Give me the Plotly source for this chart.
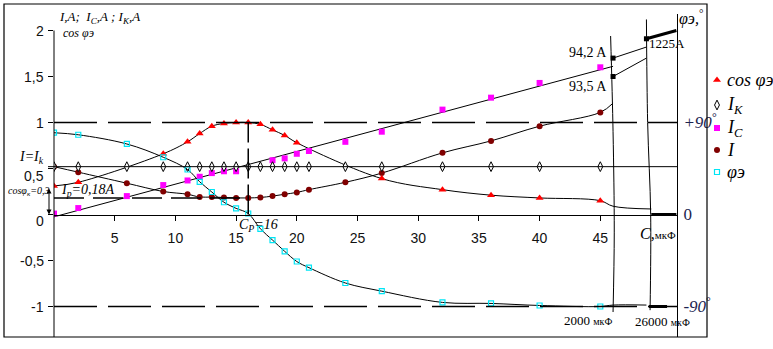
import numpy as np
import plotly.graph_objects as go

# ---------------- data ----------------
# capacitance C, µF
C_cos = [0, 2, 9, 11, 12, 13, 14, 15, 16, 17, 18, 19, 20, 27, 32, 36, 40, 45]
cos_phi = [0.31, 0.35, 0.66, 0.79, 0.88, 0.96, 0.99, 1.00, 1.00, 0.98, 0.92, 0.86, 0.78,
           0.39, 0.27, 0.21, 0.18, 0.15]

C_main = [0, 2, 6, 9, 11, 12, 13, 14, 15, 16, 17, 18, 19, 20, 21, 24, 27, 32, 36, 40, 45]
I_k = [0.52, 0.52, 0.52, 0.52, 0.52, 0.52, 0.52, 0.52, 0.52, 0.52, 0.52,
       0.52, 0.52, 0.52, 0.52, 0.52, 0.52, 0.52, 0.52, 0.52, 0.52]
I_total = [0.52, 0.46, 0.34, 0.25, 0.22, 0.19, 0.19, 0.185, 0.18, 0.18, 0.185,
           0.20, 0.22, 0.24, 0.27, 0.35, 0.45, 0.67, 0.80, 0.96, 1.11]
phi_deg = [80, 78, 69, 56, 44, 32, 22, 12, 6, 1, -14,
           -25, -36, -46, -52, -67, -75, -86, -87, -89, -90]

C_Ic = [0, 2, 6, 9, 11, 12, 13, 14, 15, 18, 19, 20, 21, 24, 27, 32, 36, 40, 45]
I_c = [0.01, 0.07, 0.20, 0.32, 0.37, 0.41, 0.45, 0.47, 0.47, 0.59, 0.61, 0.66, 0.69,
       0.79, 0.90, 1.14, 1.27, 1.43, 1.60]

I_p = 0.18      # current at resonance, A
C_p = 16        # resonance capacitance, µF
cos_k = 0.3     # cos φ of the coil alone

# axis-break section (2000 µF and 26000 µF)
C_2000, C_26000 = 46.05, 48.8
cos_tail_C, cos_tail = [46.05, 49.2], [0.09, 0.06]
I_tail_C, I_tail = [46.05], [1.21]
phi_tail_C, phi_tail = [46.05, 48.8], [-88.6, -88.6]
amp_2000_labels = ["94,2 A", "93,5 A"]
amp_2000_pos = [1.70, 1.50]
amp_26000_pos = [1.82, 1.70]
amp_1225_pos = 1.91
break1_x, break1_y = [45.85, 46.05, 46.15, 46.05], [1.94, 0.9, -0.2, -1.06]
break2_x, break2_y = [48.8, 48.9, 49.15, 49.1], [2.12, 1.0, 0.0, -1.04]

y_ticks = [-1, -0.5, 0, 0.5, 1, 1.5, 2]
y_ticktext = ["-1", "-0,5", "0", "0,5", "1", "1,5", "2"]
y_label_drop = [0, 0, 6, 7, 0, 0, 0]   # px the "0" and "0,5" labels sit below their ticks
x_ticks = [5, 10, 15, 20, 25, 30, 35, 40, 45]

# ---------------- geometry ----------------
W, H = 773, 349
ML, MT, MB = 54, 14, 12
PLOT_W = 623
PAPER_W = W - ML
PLOT_H = H - MT - MB
PX_PER_C = 12.14
PX_PER_V = 92.0
Y0_PX = 214.5

x_max = PLOT_W / PX_PER_C
y_top = (Y0_PX - MT) / PX_PER_V
y_bot = (Y0_PX - (H - MB)) / PX_PER_V


def pp(xp, yp):
    """pixel position -> paper coordinates"""
    return (xp - ML) / PAPER_W, (H - MB - yp) / PLOT_H


SERIF = "Liberation Serif"
SANS = "Liberation Sans"

fig = go.Figure()
line_kw = dict(color="black", width=1)

# ---- curves ----
fig.add_trace(go.Scatter(x=C_cos + cos_tail_C, y=cos_phi + cos_tail, mode="lines",
                         line=dict(**line_kw, shape="spline"), showlegend=False, hoverinfo="skip"))
fig.add_trace(go.Scatter(x=C_main + I_tail_C, y=I_total + I_tail, mode="lines",
                         line=dict(**line_kw, shape="spline"), showlegend=False, hoverinfo="skip"))
coef = np.polyfit(C_Ic, I_c, 1)
xs = np.array([0, C_2000])
fig.add_trace(go.Scatter(x=xs, y=np.polyval(coef, xs), mode="lines", line=line_kw,
                         showlegend=False, hoverinfo="skip"))
fig.add_trace(go.Scatter(x=C_main + phi_tail_C, y=phi_deg + phi_tail, yaxis="y2", mode="lines",
                         line=dict(**line_kw, shape="spline"), showlegend=False, hoverinfo="skip"))

# ---- axis breaks ----
for bx, by in [(break1_x, break1_y), (break2_x, break2_y)]:
    fig.add_trace(go.Scatter(x=bx, y=by, mode="lines", line=dict(**line_kw, shape="spline"),
                             showlegend=False, hoverinfo="skip"))
for y_a, y_b in zip(amp_2000_pos, amp_26000_pos):
    fig.add_trace(go.Scatter(x=[C_2000, C_26000], y=[y_a, y_b], mode="lines", line=line_kw,
                             showlegend=False, hoverinfo="skip"))
fig.add_trace(go.Scatter(x=[C_26000, x_max - 0.05], y=[amp_1225_pos, 2.0], mode="lines",
                         line=dict(color="black", width=3), showlegend=False, hoverinfo="skip"))
fig.add_trace(go.Scatter(x=[49.2, x_max - 0.05], y=[0, 0], mode="lines",
                         line=dict(color="black", width=3), showlegend=False, hoverinfo="skip"))
fig.add_trace(go.Scatter(x=[49.0, 50.5], y=[-90, -90], yaxis="y2", mode="lines",
                         line=dict(color="black", width=3), showlegend=False, hoverinfo="skip"))
fig.add_trace(go.Scatter(x=[C_2000, C_2000, C_26000], y=amp_2000_pos + [amp_1225_pos],
                         mode="markers", marker=dict(symbol="square", size=5, color="black"),
                         showlegend=False, hoverinfo="skip"))

# ---- markers ----
m_phi = dict(symbol="square-open", size=5, color="#00E5F5", line=dict(width=1.2, color="#00E5F5"))
m_ic = dict(symbol="square", size=6, color="#FF00FF")
m_i = dict(symbol="circle", size=6, color="#800000")
m_ik = dict(symbol="diamond-tall", size=7, color="white", line=dict(width=1, color="black"))
m_cos = dict(symbol="triangle-up", size=7, color="#FF0000")

fig.add_trace(go.Scatter(x=C_main, y=phi_deg, yaxis="y2", mode="markers", marker=m_phi, showlegend=False))
fig.add_trace(go.Scatter(x=C_Ic, y=I_c, mode="markers", marker=m_ic, showlegend=False))
fig.add_trace(go.Scatter(x=C_main, y=I_total, mode="markers", marker=m_i, showlegend=False))
fig.add_trace(go.Scatter(x=C_main, y=I_k, mode="markers", marker=m_ik, showlegend=False))
fig.add_trace(go.Scatter(x=C_cos, y=cos_phi, mode="markers", marker=m_cos, showlegend=False))

# ---- legend (drawn on its own pixel-scaled axes) ----
leg_names = ["<i>cos φэ</i>", "<i>I<sub>K</sub></i>", "<i>I<sub>C</sub></i>", "<i>I</i>", "<i>φэ</i>"]
leg_markers = [m_cos, m_ik, m_ic, m_i, m_phi]
leg_rows = [80, 105, 128, 150, 172]
for mk, row in zip(leg_markers, leg_rows):
    fig.add_trace(go.Scatter(x=[717], y=[row], xaxis="x3", yaxis="y3", mode="markers",
                             marker=mk, showlegend=False, hoverinfo="skip"))

annotations = []
for name, row in zip(leg_names, leg_rows):
    annotations.append(dict(x=725, y=row, xref="x3", yref="y3", text=name, showarrow=False,
                            xanchor="left", yanchor="middle",
                            font=dict(family=SERIF, size=18, color="black")))

# value-axis tick labels
for val, txt, drop in zip(y_ticks, y_ticktext, y_label_drop):
    annotations.append(dict(x=0, y=val, xref="paper", yref="y", text=txt, showarrow=False,
                            xanchor="right", yanchor="middle", xshift=-8, yshift=-drop,
                            font=dict(family=SANS, size=14, color="#111")))

# ---- shapes ----
dash_long = "43px,11px"
shapes = [
    dict(type="line", xref="x", yref="y", x0=0, x1=x_max, y0=1, y1=1,
         line=dict(color="black", width=1.5, dash=dash_long)),
    dict(type="line", xref="x", yref="y", x0=0, x1=x_max, y0=-1, y1=-1,
         line=dict(color="black", width=1.5, dash=dash_long)),
    dict(type="line", xref="x", yref="y", x0=0, x1=C_p, y0=I_p, y1=I_p,
         line=dict(color="black", width=1.5, dash="30px,9px")),
    dict(type="line", xref="x", yref="y", x0=C_p, x1=C_p, y0=0, y1=1,
         line=dict(color="black", width=1.5, dash="30px,6px")),
    # I = Ik level
    dict(type="line", xref="paper", yref="y", x0=pp(48, 0)[0], x1=PLOT_W / PAPER_W,
         y0=I_k[0], y1=I_k[0], line=dict(color="black", width=1)),
    # left value axis
    dict(type="line", xref="paper", yref="y", x0=0, x1=0, y0=y_bot, y1=2,
         line=dict(color="black", width=1)),
    # outer frame
    dict(type="rect", xref="paper", yref="paper",
         x0=pp(4, 0)[0], x1=pp(707, 0)[0], y0=pp(0, 337)[1], y1=pp(0, 4)[1],
         line=dict(color="black", width=1.2), fillcolor="rgba(0,0,0,0)"),
]


def label(xp, yp, text, size, anchor="left", family=SERIF, color="black"):
    x, y = pp(xp, yp)
    annotations.append(dict(x=x, y=y, xref="paper", yref="paper", text=text, showarrow=False,
                            xanchor=anchor, yanchor="middle",
                            font=dict(family=family, size=size, color=color)))


label(57, 17, "<i>I,A;  I<sub>C</sub>,A ; I<sub>K</sub>,A</i>", 13)
label(61, 33, "<i>cos φэ</i>", 12)
label(46, 157, "<i>I=I<sub>k</sub></i>", 14, anchor="right")
label(59, 190, "<i>I<sub>р</sub>=0,18А</i>", 14)
label(6, 191, "<i>cosφ<sub>к</sub>=0,3</i>", 10)
label(237, 225, "<i>C<sub>Р</sub>=16</i>", 14)
label(609, 53, amp_2000_labels[0], 14, anchor="right")
label(609, 86, amp_2000_labels[1], 14, anchor="right")
label(647, 44, "1225A", 13)
label(677, 17, "<i>φэ,</i><sup>°</sup>", 16)
label(638, 233, "<i>C,</i><span style='font-size:11px'>мкФ</span>", 16)
label(588, 320, "2000 <span style='font-size:10px'>мкФ</span>", 13, anchor="center")
label(662, 321, "26000 <span style='font-size:10px'>мкФ</span>", 13, anchor="center")

# double arrow for cos φк
annotations.append(dict(x=pp(49, 0)[0], y=0, xref="paper", yref="y", ax=0, ay=cos_k,
                        axref="pixel", ayref="y", text="", showarrow=True, arrowhead=2,
                        arrowside="end+start", arrowsize=1, arrowwidth=1, arrowcolor="black"))

fig.update_layout(
    width=W, height=H,
    margin=dict(l=ML, r=0, t=MT, b=MB),
    paper_bgcolor="white", plot_bgcolor="white",
    showlegend=False,
    xaxis=dict(domain=[0, PLOT_W / PAPER_W], range=[0, x_max], anchor="free",
               position=(H - MB - Y0_PX) / PLOT_H,
               showline=True, linecolor="black", linewidth=1, ticks="outside", ticklen=5,
               tickcolor="black", tickvals=x_ticks, ticklabelstandoff=6,
               tickfont=dict(family=SANS, size=14, color="#111"),
               showgrid=False, zeroline=False),
    yaxis=dict(range=[y_bot, y_top], anchor="x", showline=False, ticks="outside", ticklen=5,
               tickcolor="black", tickvals=y_ticks, showticklabels=False,
               showgrid=False, zeroline=False),
    yaxis2=dict(range=[y_bot * 90, y_top * 90], overlaying="y", side="right", anchor="x",
                showline=True, linecolor="black", linewidth=1, ticks="",
                tickvals=[-90, 0, 90],
                ticktext=["<i>-90</i><sup>°</sup>", "0", "<i>+90</i><sup>°</sup>"],
                ticklabelstandoff=2, tickfont=dict(family=SERIF, size=17, color="#1c2450"),
                showgrid=False, zeroline=False),
    xaxis3=dict(domain=[(679 - ML) / PAPER_W, 1], range=[679, W], visible=False, anchor="y3"),
    yaxis3=dict(domain=[0, 1], range=[H - MB, MT], visible=False, anchor="x3"),
    shapes=shapes,
    annotations=annotations,
)

fig.write_html("out.html")
